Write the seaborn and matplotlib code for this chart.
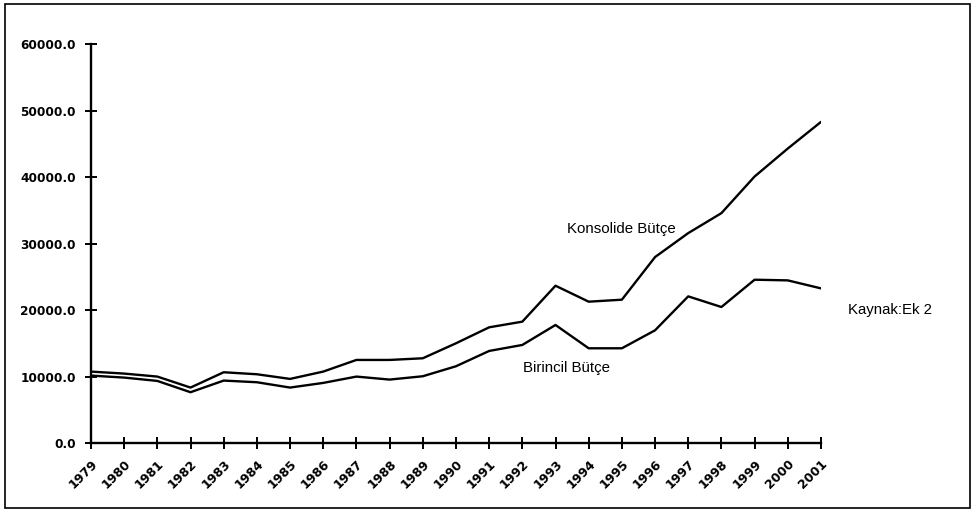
import pandas as pd
import seaborn as sns
import matplotlib.pyplot as plt
from matplotlib.patches import Rectangle

# ── Data ──────────────────────────────────────────────────────────────────────
YEARS = list(range(1979, 2002))
KONSOLIDE = [10800, 10500, 10050, 8400, 10700, 10400, 9700, 10800, 12550, 12550,
             12800, 15050, 17450, 18300, 23700, 21300, 21600, 28000, 31600, 34600,
             40100, 44300, 48300]
BIRINCIL = [10200, 9900, 9400, 7700, 9450, 9200, 8400, 9100, 10050, 9600,
            10100, 11600, 13900, 14800, 17800, 14300, 14300, 17000, 22100, 20500,
            24600, 24500, 23300]
Y_TICKS = [0, 10000, 20000, 30000, 40000, 50000, 60000]

df = pd.DataFrame({
    "year": YEARS * 2,
    "value": KONSOLIDE + BIRINCIL,
    "series": ["Konsolide Bütçe"] * len(YEARS) + ["Birincil Bütçe"] * len(YEARS),
})

# ── Plot ──────────────────────────────────────────────────────────────────────
sns.set_style("ticks")
plt.rcParams["font.family"] = ["DejaVu Sans"]
plt.rcParams["text.color"] = "black"

fig = plt.figure(figsize=(9.75, 5.12), dpi=100)
ax = fig.add_axes([0.0933, 0.1338, 0.7487, 0.7802])

sns.lineplot(
    data=df, x="year", y="value", hue="series",
    palette=["black", "black"], linewidth=1.7, legend=False, ax=ax,
)

ax.set_xlim(1979, 2001)
ax.set_ylim(0, 60000)
ax.set_xticks(YEARS)
ax.set_xticklabels([str(y) for y in YEARS], rotation=45, ha="right",
                   rotation_mode="anchor", fontsize=9, fontweight="bold")
ax.set_yticks(Y_TICKS)
ax.set_yticklabels([f"{v:.1f}" for v in Y_TICKS], fontsize=8.7, fontweight="bold")
ax.tick_params(axis="both", direction="inout", length=8, width=1.4,
               colors="black", labelcolor="black")
ax.tick_params(axis="y", pad=7)
ax.tick_params(axis="x", pad=6)
ax.set_xlabel("")
ax.set_ylabel("")

for side in ["top", "right"]:
    ax.spines[side].set_visible(False)
for side in ["left", "bottom"]:
    ax.spines[side].set_linewidth(1.7)
    ax.spines[side].set_color("black")

txt = dict(family=["Liberation Sans", "DejaVu Sans"], fontsize=10.8, color="black",
           va="center", ha="left", clip_on=False)
ax.text(1993.35, 32200, "Konsolide Bütçe", **txt)
ax.text(1992.02, 11340, "Birincil Bütçe", **txt)
ax.text(2001.82, 20050, "Kaynak:Ek 2", **txt)

# outer frame
fig.patches.append(Rectangle((0.005, 0.008), 0.99, 0.985, transform=fig.transFigure,
                             fill=False, edgecolor="black", linewidth=1.2))

fig.savefig("out.png", dpi=100)
